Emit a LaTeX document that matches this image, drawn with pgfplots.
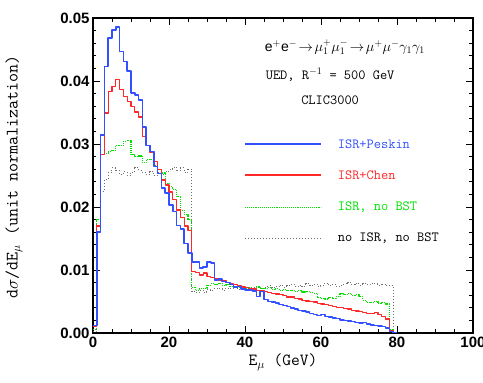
\documentclass[border=0pt]{standalone}
\usepackage{pgfplots}
\usepackage{pgfplotstable}
\pgfplotsset{compat=1.18}
\usepackage{fontspec}
\setmainfont{Liberation Sans}
\definecolor{cblue}{RGB}{50,80,255}
\definecolor{cred}{RGB}{255,40,40}
\definecolor{cgreen}{RGB}{0,225,0}
\definecolor{cgray}{RGB}{110,110,110}
\pgfplotstableread{
E b r g k
0 0.0012 0.0010 0.0005 0.0002
1 0.0160 0.0170 0.0180 0.0180
2 0.0314 0.0283 0.0283 0.0225
3 0.0423 0.0349 0.0285 0.0243
4 0.0468 0.0383 0.0288 0.0255
5 0.0481 0.0391 0.0290 0.0262
6 0.0486 0.0402 0.0298 0.0258
7 0.0447 0.0386 0.0298 0.0252
8 0.0431 0.0375 0.0304 0.0256
9 0.0416 0.0368 0.0306 0.0250
10 0.0381 0.0360 0.0283 0.0255
11 0.0378 0.0351 0.0280 0.0262
12 0.0370 0.0343 0.0281 0.0258
13 0.0327 0.0312 0.0270 0.0255
14 0.0298 0.0298 0.0275 0.0252
15 0.0288 0.0286 0.0276 0.0256
16 0.0264 0.0272 0.0266 0.0250
17 0.0253 0.0259 0.0259 0.0254
18 0.0230 0.0243 0.0254 0.0252
19 0.0222 0.0235 0.0238 0.0256
20 0.0203 0.0224 0.0232 0.0260
21 0.0193 0.0212 0.0228 0.0263
22 0.0171 0.0195 0.0216 0.0258
23 0.0165 0.0183 0.0195 0.0262
24 0.0142 0.0170 0.0188 0.0255
25 0.0127 0.0163 0.0180 0.0260
26 0.0113 0.0098 0.0072 0.0066
27 0.0113 0.0096 0.0068 0.0064
28 0.0103 0.0092 0.0070 0.0068
29 0.0105 0.0095 0.0071 0.0065
30 0.0113 0.0090 0.0076 0.0069
31 0.0111 0.0088 0.0078 0.0068
32 0.0084 0.0086 0.0077 0.0071
33 0.0086 0.0084 0.0079 0.0070
34 0.0082 0.0083 0.0076 0.0068
35 0.0080 0.0080 0.0077 0.0071
36 0.0077 0.0078 0.0074 0.0070
37 0.0073 0.0077 0.0073 0.0072
38 0.0074 0.0075 0.0072 0.0069
39 0.0070 0.0073 0.0073 0.0071
40 0.0068 0.0072 0.0071 0.0073
41 0.0068 0.0071 0.0072 0.0070
42 0.0067 0.0070 0.0070 0.0072
43 0.0058 0.0068 0.0073 0.0074
44 0.0066 0.0067 0.0071 0.0071
45 0.0053 0.0066 0.0070 0.0073
46 0.0050 0.0064 0.0072 0.0075
47 0.0049 0.0063 0.0069 0.0072
48 0.0048 0.0062 0.0071 0.0074
49 0.0045 0.0061 0.0068 0.0076
50 0.0044 0.0059 0.0069 0.0073
51 0.0042 0.0057 0.0067 0.0075
52 0.0040 0.0057 0.0068 0.0077
53 0.0038 0.0055 0.0066 0.0074
54 0.0036 0.0054 0.0067 0.0076
55 0.0035 0.0052 0.0065 0.0074
56 0.0033 0.0051 0.0066 0.0078
57 0.0031 0.0050 0.0064 0.0075
58 0.0029 0.0049 0.0063 0.0077
59 0.0028 0.0047 0.0056 0.0074
60 0.0029 0.0046 0.0055 0.0076
61 0.0026 0.0045 0.0054 0.0079
62 0.0025 0.0044 0.0056 0.0075
63 0.0024 0.0042 0.0055 0.0077
64 0.0023 0.0041 0.0058 0.0074
65 0.0021 0.0040 0.0062 0.0076
66 0.0020 0.0039 0.0061 0.0078
67 0.0019 0.0038 0.0063 0.0080
68 0.0018 0.0036 0.0060 0.0077
69 0.0017 0.0035 0.0061 0.0079
70 0.0016 0.0034 0.0058 0.0076
71 0.0017 0.0033 0.0052 0.0078
72 0.0014 0.0031 0.0049 0.0077
73 0.0013 0.0031 0.0048 0.0079
74 0.0012 0.0032 0.0050 0.0078
75 0.0011 0.0029 0.0047 0.0076
76 0.0010 0.0026 0.0048 0.0077
77 0.0008 0.0022 0.0046 0.0075
78 0.0002 0.0003 0.0005 0.0076
79 0.0000 0.0000 0.0000 0.0000
80 0.0000 0.0000 0.0000 0.0000
}\histdata
\begin{document}
\begin{tikzpicture}
\begin{axis}[
  scale only axis, width=380pt, height=315pt,
  at={(0,0)}, anchor=south west,
  xmin=0, xmax=100, ymin=0, ymax=0.05,
  xtick={0,20,40,60,80,100}, minor x tick num=3,
  ytick={0,0.01,0.02,0.03,0.04,0.05}, minor y tick num=4,
  tick align=inside, major tick length=7pt, minor tick length=3.5pt,
  axis line style={line width=1.2pt},
  tick style={black, line width=0.9pt},
  scaled y ticks=false,
  yticklabel style={/pgf/number format/.cd, fixed, fixed zerofill, precision=2},
  ticklabel style={font=\fontsize{15}{15}\selectfont\bfseries},
  /pgf/number format/assume math mode=true,
  xlabel={\ttfamily E$_\mu$ (GeV)},
  ylabel={\ttfamily d$\sigma$/dE$_\mu$ (unit normalization)},
  xlabel style={at={(axis description cs:0.5,-0.092)}, anchor=center, font=\fontsize{17}{17}\selectfont},
  ylabel style={at={(axis description cs:-0.208,0.495)}, anchor=center, font=\fontsize{17.5}{17.5}\selectfont},
  clip=true,
]
\addplot[const plot mark left, draw=cgray, mark=none, line width=1.0pt, dotted, line join=round] table[x=E, y=k] {\histdata};
\addplot[const plot mark left, draw=cgreen, mark=none, line width=1.1pt, densely dotted, line join=round] table[x=E, y=g] {\histdata};
\addplot[const plot mark left, draw=cred, mark=none, line width=1.3pt, line join=round] table[x=E, y=r] {\histdata};
\addplot[const plot mark left, draw=cblue, mark=none, line width=1.5pt, line join=round] table[x=E, y=b] {\histdata};

\node[font=\fontsize{14}{14}\selectfont] at (axis cs:66.3,0.0454) {$\mathrm{e}^+\mathrm{e}^-\!\rightarrow\!\mu_1^+\mu_1^-\!\rightarrow\!\mu^+\mu^-\gamma_1\gamma_1$};
\node[font=\ttfamily\fontsize{14}{14}\selectfont] at (axis cs:62.4,0.0410) {UED, R$^{-1}$ = 500 GeV};
\node[font=\ttfamily\fontsize{14}{14}\selectfont] at (axis cs:62.4,0.0370) {CLIC3000};

\draw[cblue, line width=1.5pt] (axis cs:40,0.0300) -- (axis cs:59.9,0.0300);
\draw[cred, line width=1.3pt] (axis cs:40,0.02508) -- (axis cs:59.9,0.02508);
\draw[cgreen, line width=1.1pt, densely dotted] (axis cs:40,0.01995) -- (axis cs:59.9,0.01995);
\draw[cgray, line width=1.0pt, dotted] (axis cs:40,0.01503) -- (axis cs:59.9,0.01503);
\node[anchor=west, text=cblue, font=\ttfamily\fontsize{14}{14}\selectfont] at (axis cs:63.5,0.0300) {ISR+Peskin};
\node[anchor=west, text=cred, font=\ttfamily\fontsize{14}{14}\selectfont] at (axis cs:63.5,0.02508) {ISR+Chen};
\node[anchor=west, text=cgreen, font=\ttfamily\fontsize{14}{14}\selectfont] at (axis cs:63.5,0.01995) {ISR, no BST};
\node[anchor=west, text=black, font=\ttfamily\fontsize{14}{14}\selectfont] at (axis cs:63.5,0.01503) {no ISR, no BST};
\end{axis}
\pgfresetboundingbox
\useasboundingbox (-93pt,-50pt) rectangle (390pt,333pt);
\end{tikzpicture}
\end{document}
